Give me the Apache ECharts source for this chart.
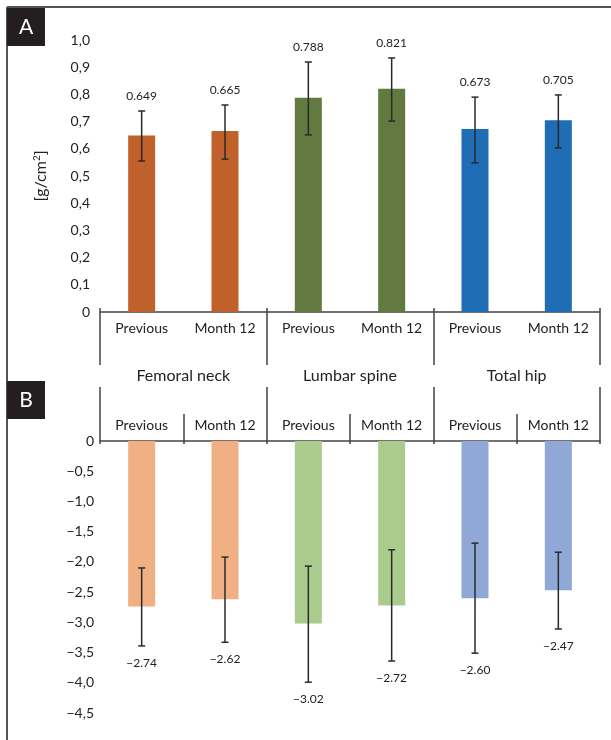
<!DOCTYPE html>
<html>
<head>
<meta charset="utf-8">
<script src="https://cdn.jsdelivr.net/npm/echarts@6/dist/echarts.min.js"></script>
<style>
  html, body { margin: 0; padding: 0; background: #fff; }
  #chart { width: 611px; height: 740px; }
</style>
</head>
<body>
<div id="chart"></div>
<script>
// Datos
const categories = ['Previous', 'Month 12', 'Previous', 'Month 12', 'Previous', 'Month 12'];
const groups = ['Femoral neck', 'Lumbar spine', 'Total hip'];

// Panel A: densidad mineral osea [g/cm2]
const bmdMean = [0.649, 0.665, 0.788, 0.821, 0.673, 0.705];
const bmdLow = [0.555, 0.562, 0.651, 0.702, 0.548, 0.603];
const bmdHigh = [0.739, 0.761, 0.919, 0.934, 0.790, 0.798];

// Panel B: T-score
const tMean = [-2.74, -2.62, -3.02, -2.72, -2.60, -2.47];
const tLow = [-3.39, -3.33, -3.99, -3.64, -3.51, -3.11];
const tHigh = [-2.10, -1.92, -2.07, -1.80, -1.69, -1.84];

const darkColors = ['#c0602b', '#c0602b', '#627a3f', '#627a3f', '#1f6db5', '#1f6db5'];
const lightColors = ['#f0b083', '#f0b083', '#a9cc8c', '#a9cc8c', '#8fa8d6', '#8fa8d6'];

const FONT = 'Lato';
const TXT = '#222';
const LINE = '#444';

const fmtA = v => v === 0 ? '0' : v.toFixed(1).replace('.', ',');
const fmtB = v => v === 0 ? '0' : '\u2212' + Math.abs(v).toFixed(1).replace('.', ',');

// Barras de error con etiqueta
function errorBars(labelAbove, fmt) {
  return function (params, api) {
    const x = api.value(0);
    const lo = api.coord([x, api.value(1)]);
    const hi = api.coord([x, api.value(2)]);
    const mean = api.value(3);
    const w = 3.5;
    const st = { stroke: '#2a2a2a', lineWidth: 1.5 };
    const ty = labelAbove ? Math.min(lo[1], hi[1]) - 15 : Math.max(lo[1], hi[1]) + 17;
    return {
      type: 'group',
      children: [
        { type: 'line', shape: { x1: lo[0], y1: lo[1], x2: hi[0], y2: hi[1] }, style: st },
        { type: 'line', shape: { x1: lo[0] - w, y1: lo[1], x2: lo[0] + w, y2: lo[1] }, style: st },
        { type: 'line', shape: { x1: hi[0] - w, y1: hi[1], x2: hi[0] + w, y2: hi[1] }, style: st },
        { type: 'text', x: lo[0], y: ty, style: { text: fmt(mean), fill: TXT, font: '12px ' + FONT, align: 'center', verticalAlign: 'middle' } }
      ]
    };
  };
}

const chart = echarts.init(document.getElementById('chart'));

const option = {
  animation: false,
  textStyle: { fontFamily: FONT },
  grid: [
    { left: 100, width: 500, top: 40, height: 272 },
    { left: 100, width: 500, top: 441, height: 272 }
  ],
  xAxis: [
    {
      gridIndex: 0, type: 'category', data: categories, position: 'bottom',
      axisLine: { lineStyle: { color: LINE, width: 1.5 } },
      axisTick: { show: false },
      axisLabel: { color: TXT, fontSize: 14, margin: 9, interval: 0 }
    },
    {
      gridIndex: 0, type: 'category', data: groups, position: 'bottom', offset: -4,
      axisLine: { show: false },
      axisTick: { show: true, length: 57, lineStyle: { color: LINE, width: 1.5 } },
      axisLabel: { color: TXT, fontSize: 16, margin: 60, interval: 0 }
    },
    {
      gridIndex: 1, type: 'category', data: categories, position: 'top',
      axisLine: { lineStyle: { color: LINE, width: 1.5 } },
      axisTick: { show: false },
      axisLabel: { color: TXT, fontSize: 14, margin: 9, interval: 0 }
    },
    {
      gridIndex: 1, type: 'category', data: categories, position: 'top', offset: -3,
      axisLine: { show: false },
      axisTick: { show: true, length: 30, lineStyle: { color: LINE, width: 1.5 } },
      axisLabel: { show: false }
    },
    {
      gridIndex: 1, type: 'category', data: groups, position: 'top', offset: -3,
      axisLine: { show: false },
      axisTick: { show: true, length: 57, lineStyle: { color: LINE, width: 1.5 } },
      axisLabel: { show: false }
    }
  ],
  yAxis: [
    {
      gridIndex: 0, type: 'value', min: 0, max: 1, interval: 0.1,
      name: '{n|[g/cm}{s|2}{n|]}', nameLocation: 'middle', nameGap: 50, nameRotate: 90,
      nameTextStyle: {
        rich: {
          n: { color: TXT, fontSize: 16, fontFamily: FONT },
          s: { color: TXT, fontSize: 10, fontFamily: FONT, verticalAlign: 'top', padding: [0, 0, 8, 0] }
        }
      },
      axisLine: { show: false }, axisTick: { show: false }, splitLine: { show: false },
      axisLabel: { color: TXT, fontSize: 14, margin: 10, formatter: fmtA }
    },
    {
      gridIndex: 1, type: 'value', min: -4.5, max: 0, interval: 0.5,
      axisLine: { show: false }, axisTick: { show: false }, splitLine: { show: false },
      axisLabel: { color: TXT, fontSize: 14, margin: 6, formatter: fmtB }
    }
  ],
  series: [
    {
      type: 'bar', xAxisIndex: 0, yAxisIndex: 0, barWidth: 27,
      data: bmdMean.map((v, i) => ({ value: v, itemStyle: { color: darkColors[i] } }))
    },
    {
      type: 'custom', xAxisIndex: 0, yAxisIndex: 0, z: 5,
      renderItem: errorBars(true, v => v.toFixed(3)),
      encode: { x: 0, y: [1, 2] },
      data: bmdMean.map((v, i) => [i, bmdLow[i], bmdHigh[i], v])
    },
    {
      type: 'bar', xAxisIndex: 2, yAxisIndex: 1, barWidth: 27,
      data: tMean.map((v, i) => ({ value: v, itemStyle: { color: lightColors[i] } }))
    },
    {
      type: 'custom', xAxisIndex: 2, yAxisIndex: 1, z: 5,
      renderItem: errorBars(false, v => '\u2212' + Math.abs(v).toFixed(2)),
      encode: { x: 0, y: [1, 2] },
      data: tMean.map((v, i) => [i, tLow[i], tHigh[i], v])
    }
  ],
  graphic: [
    { type: 'line', shape: { x1: 7, y1: 7, x2: 611, y2: 7 }, style: { stroke: '#555', lineWidth: 2 } },
    { type: 'line', shape: { x1: 7, y1: 7, x2: 7, y2: 740 }, style: { stroke: '#555', lineWidth: 2 } },
    { type: 'rect', shape: { x: 7, y: 8, width: 38, height: 38 }, style: { fill: '#231f20' } },
    { type: 'text', x: 26, y: 27, style: { text: 'A', fill: '#fff', font: '21px ' + FONT, align: 'center', verticalAlign: 'middle' } },
    { type: 'rect', shape: { x: 7, y: 381, width: 38, height: 38 }, style: { fill: '#231f20' } },
    { type: 'text', x: 26, y: 400, style: { text: 'B', fill: '#fff', font: '21px ' + FONT, align: 'center', verticalAlign: 'middle' } }
  ]
};

chart.setOption(option);
</script>
</body>
</html>
